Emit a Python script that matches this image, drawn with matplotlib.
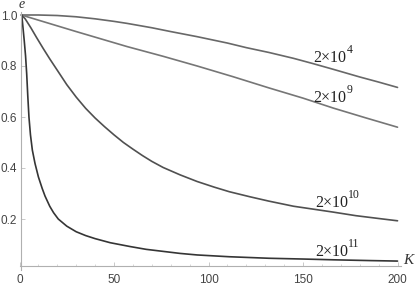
import matplotlib
matplotlib.use("Agg")
import matplotlib.pyplot as plt
from matplotlib.ticker import MultipleLocator

# Curve data (K, e)
k_a = [1, 10, 20, 30, 40, 50, 57, 70, 80, 94, 110, 120, 132, 145, 155, 166, 180, 190, 200]
e_a = [1.0, 1.0, 0.998, 0.993, 0.985, 0.975, 0.967, 0.95, 0.935, 0.915, 0.89, 0.872,
       0.853, 0.83, 0.81, 0.787, 0.757, 0.737, 0.716]

k_b = [1, 12.6, 30, 57, 76, 94, 113, 132, 150, 166, 183, 200]
e_b = [1.0, 0.974, 0.935, 0.876, 0.838, 0.8, 0.758, 0.714, 0.674, 0.635, 0.597, 0.56]

k_c = [1, 3, 6, 9, 12.6, 16, 21, 25, 30, 35, 40, 45, 50, 55, 60, 65, 70, 76, 85, 94,
       103, 111, 122, 132, 145, 156, 166, 178, 190, 200]
e_c = [1.0, 0.985, 0.95, 0.912, 0.868, 0.828, 0.772, 0.727, 0.678, 0.634, 0.596, 0.562,
       0.53, 0.5, 0.474, 0.449, 0.426, 0.402, 0.373, 0.347, 0.325, 0.307, 0.287, 0.27,
       0.25, 0.238, 0.227, 0.213, 0.202, 0.193]

k_d = [1.2, 2.5, 3.2, 3.8, 4.4, 5, 5.8, 6.8, 8.2, 10, 12, 13.5, 16, 18, 20.5, 25, 30,
       35, 40, 48, 58.5, 67, 76, 85, 94, 111, 132, 150, 166, 185, 200]
e_d = [1.0, 0.9, 0.84, 0.77, 0.68, 0.6, 0.53, 0.47, 0.418, 0.365, 0.32, 0.29, 0.25,
       0.225, 0.2, 0.172, 0.15, 0.135, 0.123, 0.107, 0.092, 0.081, 0.073, 0.065, 0.059,
       0.052, 0.046, 0.043, 0.04, 0.037, 0.035]

label_base = ['2×10', '2×10', '2×10', '2×10']
label_exp = ['4', '9', '10', '11']
label_k = [155.3, 155.3, 156.3, 156.3]
label_e = [0.816, 0.659, 0.247, 0.055]

x_ticks = [0, 50, 100, 150, 200]
y_ticks = [0.2, 0.4, 0.6, 0.8, 1.0]
y_ticklabels = ['0.2', '0.4', '0.6', '0.8', '1.0']

fig = plt.figure(figsize=(4.15, 2.86), dpi=100)
ax = fig.add_axes([19.5/415, 16/286, 381.8/415, 257.55/286])

colors = ['#686868', '#767676', '#505050', '#353535']
for (k, e), c in zip([(k_a, e_a), (k_b, e_b), (k_c, e_c), (k_d, e_d)], colors):
    ax.plot(k, e, color=c, lw=1.2, solid_capstyle='round', solid_joinstyle='round')

ax.set_xlim(0, 202)
ax.set_ylim(0, 1.01)
ax.spines['left'].set_position(('data', 1))
ax.spines['bottom'].set_position(('data', 0.016))
ax.spines['right'].set_visible(False)
ax.spines['top'].set_visible(False)
for s in ['left', 'bottom']:
    ax.spines[s].set_color('#b0b0b0')
    ax.spines[s].set_linewidth(0.8)

ax.set_xticks(x_ticks)
ax.set_xticklabels([str(v) for v in x_ticks])
ax.set_yticks(y_ticks)
ax.set_yticklabels(y_ticklabels)
ax.xaxis.set_minor_locator(MultipleLocator(10))
ax.tick_params(axis='both', which='major', direction='in', length=3, width=0.6,
               color='#c0c0c0', labelsize=8.5, labelcolor='#444444')
ax.tick_params(axis='y', which='major', pad=3)
ax.tick_params(axis='x', which='major', pad=6)
ax.tick_params(axis='x', which='minor', direction='in', length=1.5, width=0.5, color='#c8c8c8')
for lab in ax.get_xticklabels() + ax.get_yticklabels():
    lab.set_fontfamily('Liberation Sans')

base_texts = []
for t, kx, ey in zip(label_base, label_k, label_e):
    base_texts.append(ax.text(kx, ey, t, fontsize=11.5, family='Liberation Serif',
                              ha='left', va='baseline', color='#222222'))

fig.canvas.draw()
renderer = fig.canvas.get_renderer()
for bt, ex, kx, ey in zip(base_texts, label_exp, label_k, label_e):
    bb = bt.get_window_extent(renderer)
    base_y = ax.transData.transform((kx, ey))[1]
    ax.annotate(ex, xy=(bb.x1 + 0.5, base_y + 9), xycoords='figure pixels',
                fontsize=8.5, family='Liberation Serif', ha='left', va='baseline',
                color='#222222')

fig.text(22/415, 1 - 5/286, 'e', fontsize=10, fontstyle='italic', family='Liberation Serif',
         ha='center', va='center', color='#333333')
fig.text(408/415, 1 - 260/286, 'K', fontsize=11, fontstyle='italic', family='Liberation Serif',
         ha='center', va='center', color='#333333')

fig.savefig('out.png', dpi=100)
